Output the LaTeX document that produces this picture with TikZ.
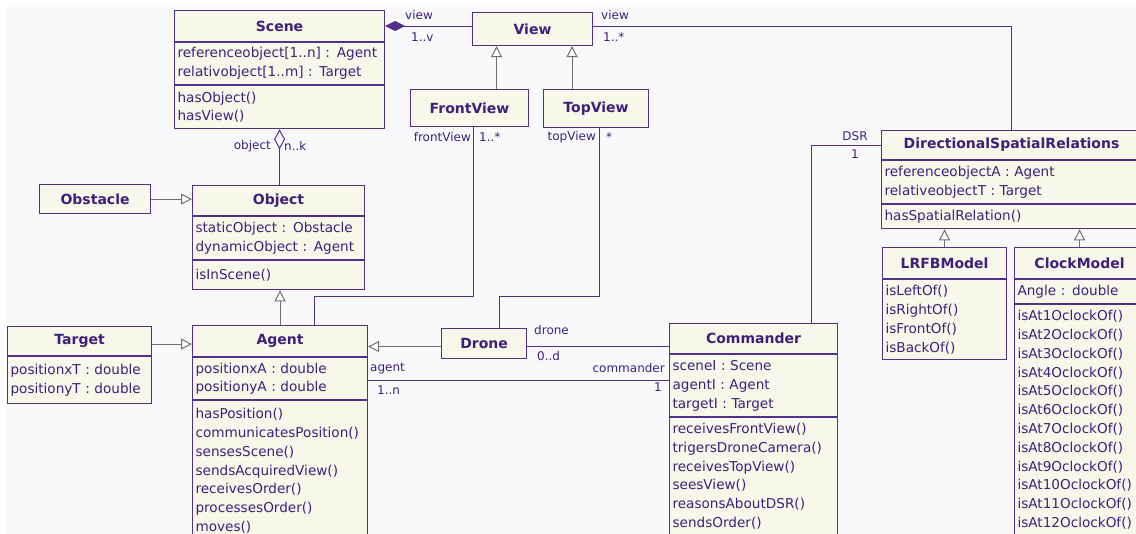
\documentclass[tikz,border=0pt]{standalone}
\usepackage{fontspec}
\setmainfont{DejaVu Sans}
\usetikzlibrary{arrows.meta}

\definecolor{umlline}{RGB}{82,48,140}
\definecolor{umltext}{RGB}{62,32,122}
\definecolor{umlfill}{RGB}{247,247,234}
\definecolor{umlgen}{RGB}{112,112,112}
\definecolor{umlbg}{RGB}{249,249,252}

\begin{document}
\begin{tikzpicture}[x = 1pt, y = -1pt,
                    ctitle/.style 2 args = {draw = umlline, fill = umlfill, text = umltext,
                      line width = 1.1pt, anchor = north west, inner sep = 0pt,
                      minimum width = #1, minimum height = #2,
                      font = \bfseries\fontsize{14}{16}\selectfont},
                    ccomp/.style 2 args = {draw = umlline, fill = umlfill, text = umltext,
                      line width = 1.1pt, anchor = north west, inner xsep = 3pt, inner ysep = 0pt,
                      text width = #1 - 6pt, minimum height = #2, align = left,
                      font = \fontsize{13.6}{18.8}\selectfont},
                    role/.style = {text = umltext, inner sep = 0pt, font = \fontsize{12}{14}\selectfont},
                    assoc/.style = {draw = umlline, line width = 1pt},
                    gen/.style = {draw = umlgen, line width = 1pt,
                      -{Triangle[length = 11pt, width = 11pt, fill = white]}}]
      \useasboundingbox (0, 0) rectangle (1136, 534);
      \fill [white] (0, 0) rectangle (1136, 534);
      \fill [umlbg] (6, 5) rectangle (1136, 534);

      % classes
      \node [ctitle = {210pt}{31pt}] (scene) at (174, 10) {Scene};
      \node [ccomp = {210pt}{42pt}] (scene-a) at (scene.south west)
        {referenceobject[1..n] : Agent\\relativobject[1..m] : Target};
      \node [ccomp = {210pt}{43pt}] (scene-m) at (scene-a.south west) {hasObject()\\hasView()};

      \node [ctitle = {120pt}{33pt}] (view) at (472, 12) {View};
      \node [ctitle = {118pt}{37pt}] (frontview) at (410, 89) {FrontView};
      \node [ctitle = {105pt}{38pt}] (topview) at (543, 89) {TopView};

      \node [ctitle = {260pt}{29pt}] (dsr) at (881, 130) {DirectionalSpatialRelations};
      \node [ccomp = {260pt}{43pt}] (dsr-a) at (dsr.south west)
        {referenceobjectA : Agent\\relativeobjectT : Target};
      \node [ccomp = {260pt}{24pt}] (dsr-m) at (dsr-a.south west) {hasSpatialRelation()};

      \node [ctitle = {124pt}{31pt}] (lrfb) at (882, 247) {LRFBModel};
      \node [ccomp = {124pt}{80pt}] (lrfb-m) at (lrfb.south west)
        {isLeftOf()\\isRightOf()\\isFrontOf()\\isBackOf()};

      \node [ctitle = {130pt}{31pt}] (clock) at (1014, 247) {ClockModel};
      \node [ccomp = {130pt}{24pt}] (clock-a) at (clock.south west) {Angle : double};
      \node [ccomp = {130pt}{230pt}] (clock-m) at (clock-a.south west)
        {isAt1OclockOf()\\isAt2OclockOf()\\isAt3OclockOf()\\isAt4OclockOf()\\
         isAt5OclockOf()\\isAt6OclockOf()\\isAt7OclockOf()\\isAt8OclockOf()\\
         isAt9OclockOf()\\isAt10OclockOf()\\isAt11OclockOf()\\isAt12OclockOf()};

      \node [ctitle = {168pt}{30pt}] (commander) at (669, 323) {Commander};
      \node [ccomp = {168pt}{62pt}] (commander-a) at (commander.south west)
        {sceneI : Scene\\agentI : Agent\\targetI : Target};
      \node [ccomp = {168pt}{117pt}] (commander-m) at (commander-a.south west)
        {receivesFrontView()\\trigersDroneCamera()\\receivesTopView()\\
         seesView()\\reasonsAboutDSR()\\sendsOrder()};

      \node [ctitle = {85pt}{30pt}] (drone) at (441, 328) {Drone};
      \node [ctitle = {111pt}{29pt}] (obstacle) at (39, 184) {Obstacle};

      \node [ctitle = {172pt}{30pt}] (object) at (192, 185) {Object};
      \node [ccomp = {172pt}{43pt}] (object-a) at (object.south west)
        {staticObject : Obstacle\\dynamicObject : Agent};
      \node [ccomp = {172pt}{29pt}] (object-m) at (object-a.south west) {isInScene()};

      \node [ctitle = {144pt}{29pt}] (target) at (7, 326) {Target};
      \node [ccomp = {144pt}{47pt}] (target-a) at (target.south west)
        {positionxT : double\\positionyT : double};

      \node [ctitle = {175pt}{31pt}] (agent) at (192, 325) {Agent};
      \node [ccomp = {175pt}{42pt}] (agent-a) at (agent.south west)
        {positionxA : double\\positionyA : double};
      \node [ccomp = {175pt}{140pt}] (agent-m) at (agent-a.south west)
        {hasPosition()\\communicatesPosition()\\sensesScene()\\sendsAcquiredView()\\
         receivesOrder()\\processesOrder()\\moves()};

      % associations
      \draw [assoc, {Diamond[length = 20pt, width = 10pt, fill = umlline]}-]
        (scene.east) -- (scene.east -| view.west);
      \node [role, anchor = west] (l-view1) at (405, 15) {view};
      \node [role, anchor = west] (l-v) at (411, 37) {1..v};

      \draw [assoc] (scene.east -| view.east) -| (dsr.north);
      \node [role, anchor = west] (l-view2) at (601, 15) {view};
      \node [role, anchor = west] (l-vstar) at (603, 37) {1..*};

      \draw [assoc, {Diamond[length = 20pt, width = 11pt, fill = umlbg]}-]
        (scene-m.south) -- (scene-m.south |- object.north);
      \node [role, anchor = east] (l-object) at (271, 146) {object};
      \node [role, anchor = west] (l-k) at (284, 146) {n..k};

      \draw [assoc] ([xshift = 4pt]frontview.south) -- ++(0, 169) -| ([xshift = 34pt]agent.north);
      \node [role, anchor = east] (l-front) at (471, 137) {frontView};
      \node [role, anchor = west] (l-fstar) at (479, 137) {1..*};

      \draw [assoc] ([xshift = 3pt]topview.south) -- ++(0, 168) -| ([xshift = 15pt]drone.north);
      \node [role, anchor = east] (l-top) at (596, 137) {topView};
      \node [role, anchor = west] (l-tstar) at (606, 137) {*};

      \draw [assoc] (dsr.west) -| ([xshift = 58pt]commander.north);
      \node [role] (l-dsr) at (855, 136) {DSR};
      \node [role] (l-one1) at (855, 154) {1};

      \draw [assoc] ([yshift = -3pt]drone.east) -- ([yshift = -3pt]drone.east -| commander.west);
      \node [role, anchor = west] (l-drone) at (534, 330) {drone};
      \node [role, anchor = west] (l-d) at (537, 356) {0..d};

      \draw [assoc] ([yshift = -2pt]agent-a.east) -- ([yshift = -2pt]agent-a.east -| commander-a.west);
      \node [role, anchor = west] (l-agent) at (370, 369) {agent};
      \node [role, anchor = west] (l-n) at (377, 390) {1..n};
      \node [role, anchor = east] (l-comm) at (665, 368) {commander};
      \node [role, anchor = east] (l-one2) at (662, 387) {1};

      % generalizations
      \draw [gen] ([xshift = 27pt]frontview.north) -- ([xshift = 27pt]frontview.north |- view.south);
      \draw [gen] ([xshift = -24pt]topview.north) -- ([xshift = -24pt]topview.north |- view.south);
      \draw [gen] (lrfb.north) -- (lrfb.north |- dsr-m.south);
      \draw [gen] (clock.north) -- (clock.north |- dsr-m.south);
      \draw [gen] (obstacle.east) -- (obstacle.east -| object.west);
      \draw [gen] (agent.north) -- (agent.north |- object-m.south);
      \draw [gen] ([yshift = -3pt]target.east) -- ([yshift = -3pt]target.east -| agent.west);
      \draw [gen] ([yshift = -3pt]drone.west) -- ([yshift = -3pt]drone.west -| agent.east);
    \end{tikzpicture}
\end{document}
